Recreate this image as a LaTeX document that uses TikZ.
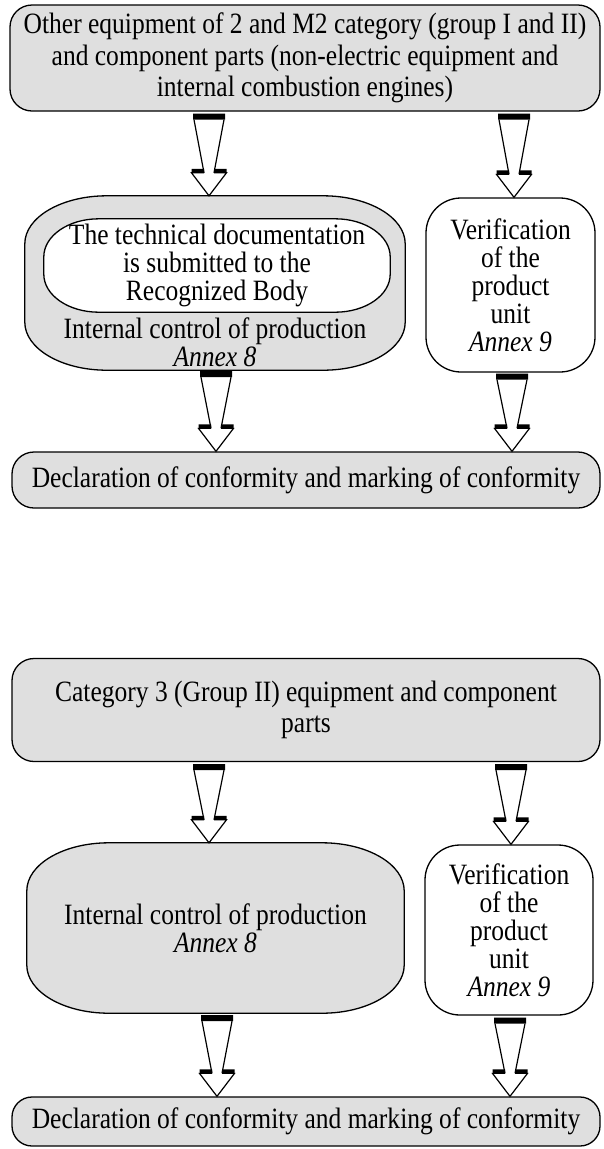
\documentclass[tikz,border=0pt]{standalone}
\usepackage{fontspec}
\setmainfont{Liberation Serif}[FakeStretch=0.865]
\usetikzlibrary{calc}
\pgfdeclarelayer{bg}
\pgfsetlayers{bg,main}
\definecolor{boxgray}{RGB}{223,223,223}
\newcommand\ellbox[4]{%
 \filldraw[fill=#4, line width=1.3pt] let \p1=(#1.south west), \p2=(#1.north east) in
  (\x1+#2,\y1) -- (\x2-#2,\y1) arc[start angle=270,end angle=360,x radius=#2,y radius=#3]
  -- (\x2,\y2-#3) arc[start angle=0,end angle=90,x radius=#2,y radius=#3]
  -- (\x1+#2,\y2) arc[start angle=90,end angle=180,x radius=#2,y radius=#3]
  -- (\x1,\y1+#3) arc[start angle=180,end angle=270,x radius=#2,y radius=#3] -- cycle;}
\newcommand\fatarrow[2]{%
 \fill[white] let \p1=#1, \p2=#2 in (\x1-15pt,\y1-6pt) -- (\x1-5pt,\y2+23pt) -- (\x1+5pt,\y2+23pt) -- (\x1+15pt,\y1-6pt) -- cycle;
 \draw[arrline] let \p1=#1, \p2=#2 in (\x1-15pt,\y1-6pt) -- (\x1-5pt,\y2+23pt) (\x1+15pt,\y1-6pt) -- (\x1+5pt,\y2+23pt);
 \fill let \p1=#1, \p2=#2 in (\x1-16pt,\y1) rectangle (\x1+16pt,\y1-6pt) (\x1-17.5pt,\y2+23pt) rectangle (\x1-5pt,\y2+27pt) (\x1+5pt,\y2+23pt) rectangle (\x1+17.5pt,\y2+27pt);
 \filldraw[fill=white,arrline] let \p1=#1, \p2=#2 in (\x1-5pt,\y2+23pt) -- (\x1-17.5pt,\y2+23pt) -- (\x1,\y2) -- (\x1+17.5pt,\y2+23pt) -- (\x1+5pt,\y2+23pt);
}
\begin{document}
\begin{tikzpicture}[x=1pt,y=-1pt,
  txt/.style={font=\fontsize{29.5}{28}\selectfont, align=center, inner sep=0pt},
  gbox/.style={txt, draw, fill=boxgray, line width=1.3pt, rounded corners=#1},
  wbox/.style={txt, draw, fill=white, line width=1.3pt, rounded corners=#1},
  arrline/.style={line width=1.2pt, line join=miter},
  wide/.style={font=\fontsize{29.5}{31.5}\selectfont}]
\useasboundingbox (0,0) rectangle (603,1149);

% ---------- diagram 1 ----------
\node[gbox=22pt, wide, minimum width=590pt, minimum height=106pt] (top1) at (305,58)
  {Other equipment of 2 and M2 category (group I and II)\\and component parts (non-electric equipment and\\internal combustion engines)};
\node[inner sep=0pt, minimum width=380pt, minimum height=174pt] (m1) at (215,283) {};
\node[txt, minimum width=346pt, minimum height=93pt] (m1in) at (217,265.5)
  {The technical documentation\\is submitted to the\\Recognized Body};
\node[txt] (m1t) at (215,342) {Internal control of production\\\textit{Annex 8}};
\node[wbox=35pt, minimum width=169pt, minimum height=174pt] (r1) at (510.5,285)
  {Verification\\of the\\product\\unit\\\textit{Annex 9}};
\node[gbox=22pt, minimum width=588pt, minimum height=56pt] (d1) at (306,480)
  {Declaration of conformity and marking of conformity};

% ---------- diagram 2 ----------
\node[gbox=22pt, wide, minimum width=588pt, minimum height=103pt] (top2) at (306,710)
  {Category 3 (Group II) equipment and component\\parts};
\node[txt, minimum width=377pt, minimum height=170pt] (m2) at (215.5,928)
  {Internal control of production\\\textit{Annex 8}};
\node[wbox=35pt, minimum width=168pt, minimum height=170pt] (r2) at (509,930)
  {Verification\\of the\\product\\unit\\\textit{Annex 9}};
\node[gbox=20pt, minimum width=588pt, minimum height=49pt] (d2) at (306,1121.5)
  {Declaration of conformity and marking of conformity};

% ---------- arrows ----------
\fatarrow{($(top1.south -| m1.north)+(-6,2)$)}{($(m1.north)+(-6,0)$)}
\fatarrow{($(top1.south -| r1.north)+(3.5,2)$)}{($(r1.north)+(3.5,0)$)}
\fatarrow{($(m1.south)+(1,1)$)}{($(d1.north -| m1.south)+(1,0)$)}
\fatarrow{($(r1.south)+(1.5,1)$)}{($(d1.north -| r1.south)+(1.5,0)$)}
\fatarrow{($(top2.south -| m2.north)+(-6.5,2)$)}{($(m2.north)+(-6.5,0)$)}
\fatarrow{($(top2.south -| r2.north)+(2,2)$)}{($(r2.north)+(2,0)$)}
\fatarrow{($(m2.south)+(1.5,2)$)}{($(d2.north -| m2.south)+(1.5,0)$)}
\fatarrow{($(r2.south)+(1,2)$)}{($(d2.north -| r2.south)+(1,0)$)}

\begin{pgfonlayer}{bg}
\ellbox{m1}{82pt}{48pt}{boxgray}
\ellbox{m1in}{55pt}{38pt}{white}
\ellbox{m2}{82pt}{48pt}{boxgray}
\end{pgfonlayer}
\end{tikzpicture}
\end{document}
